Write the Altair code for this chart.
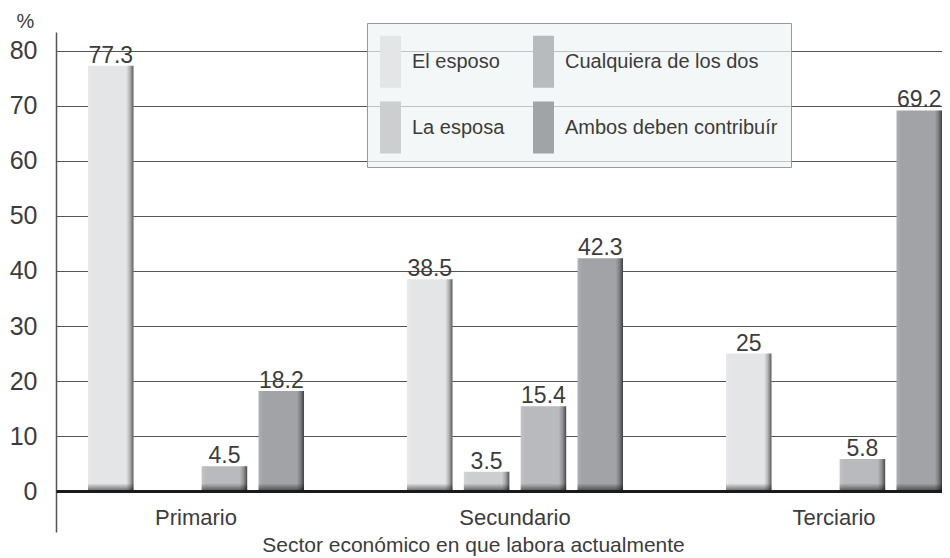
import altair as alt
import pandas as pd

sectors = ["Primario", "Secundario", "Terciario"]
series = ["El esposo", "La esposa", "Cualquiera de los dos", "Ambos deben contribuír"]
el_esposo = [77.3, 38.5, 25.0]
la_esposa = [0.0, 3.5, 0.0]
cualquiera = [4.5, 15.4, 5.8]
ambos = [18.2, 42.3, 69.2]
y_ticks = [0, 10, 20, 30, 40, 50, 60, 70, 80]
colors = ["#e4e5e7", "#cdced0", "#b9babd", "#a2a3a6"]

rows = []
for name, vals in zip(series, [el_esposo, la_esposa, cualquiera, ambos]):
    for s, v in zip(sectors, vals):
        if v > 0:
            rows.append({"sector": s, "serie": name, "valor": v, "label": f"{v:g}"})
df = pd.DataFrame(rows)

F = "Liberation Sans"
TXT = "#3c3c3c"

x_enc = alt.X(
    "sector:N",
    sort=sectors,
    scale=alt.Scale(domain=sectors, paddingInner=0.3229, paddingOuter=0.0502, align=1),
    axis=alt.Axis(
        orient="bottom", offset=-41, domainColor="#1a1a1a", domainWidth=3,
        ticks=False, labelAngle=0, labelFontSize=22, labelFont=F, labelColor=TXT,
        labelPadding=16, grid=False, zindex=1,
        titleFontSize=21, titleFont=F, titleFontWeight="normal", titleColor=TXT,
        titleX=417, titleY=60, titleAlign="center", titleBaseline="alphabetic",
    ),
    title="Sector económico en que labora actualmente",
)
xoff_enc = alt.XOffset("serie:N", scale=alt.Scale(domain=series, paddingInner=0.2, paddingOuter=0))

y_enc = alt.Y(
    "valor:Q",
    scale=alt.Scale(domain=[-7.45, 83.45], nice=False),
    axis=alt.Axis(
        values=y_ticks, grid=True, gridColor="#555555", gridWidth=1,
        domainColor="#555555", domainWidth=1.5, ticks=False,
        labelFontSize=25, labelFont=F, labelColor=TXT, labelPadding=19,
        title="%", titleAngle=0, titleX=-31, titleY=-5, titleAlign="center",
        titleBaseline="alphabetic", titleFontSize=20, titleFont=F,
        titleFontWeight="normal", titleColor=TXT,
    ),
)

base = alt.Chart(df).encode(x=x_enc, xOffset=xoff_enc)

bars = base.mark_bar().encode(
    y=y_enc,
    y2=alt.datum(0),
    color=alt.Color(
        "serie:N",
        scale=alt.Scale(domain=series, range=colors),
        legend=alt.Legend(
            title=" ", titleFontSize=1, titlePadding=14,
            orient="none", legendX=311, legendY=-9, columns=2,
            symbolType="M-1,-2.48H1V2.48H-1Z", symbolSize=441, symbolStrokeWidth=0,
            symbolOpacity=1, labelFontSize=20, labelFont=F, labelColor=TXT,
            labelLimit=400, labelOffset=11, rowPadding=13, columnPadding=28,
            padding=13, fillColor="rgba(240,244,244,0.7)", strokeColor="#999999",
        ),
    ),
)

shade_right = base.mark_bar(
    color=alt.Gradient(
        gradient="linear", x1=0, x2=1, y1=0, y2=0,
        stops=[
            alt.GradientStop(offset=0, color="rgba(255,255,255,0.15)"),
            alt.GradientStop(offset=0.1, color="rgba(255,255,255,0)"),
            alt.GradientStop(offset=0.84, color="rgba(0,0,0,0)"),
            alt.GradientStop(offset=0.92, color="rgba(0,0,0,0.22)"),
            alt.GradientStop(offset=1, color="rgba(0,0,0,0.6)"),
        ],
    )
).encode(y="valor:Q", y2=alt.datum(0))

shade_bottom = base.mark_bar(
    color=alt.Gradient(
        gradient="linear", x1=0, x2=0, y1=0, y2=1,
        stops=[
            alt.GradientStop(offset=0, color="rgba(0,0,0,0)"),
            alt.GradientStop(offset=1, color="rgba(0,0,0,0.55)"),
        ],
    )
).encode(y=alt.datum(1.4), y2=alt.datum(0))

labels = base.mark_text(
    baseline="alphabetic", dy=-3, fontSize=23, font=F, color=TXT
).encode(y="valor:Q", text="label:N")

chart = (
    alt.layer(bars, shade_right, shade_bottom, labels)
    .properties(
        width=886, height=500,
        padding={"left": 48, "top": 24, "right": 0, "bottom": 27},
        autosize=alt.AutoSizeParams(type="none"),
        background="white",
    )
    .configure_view(stroke=None)
)

chart.save("out.html", embed_options={"renderer": "svg", "actions": False})
